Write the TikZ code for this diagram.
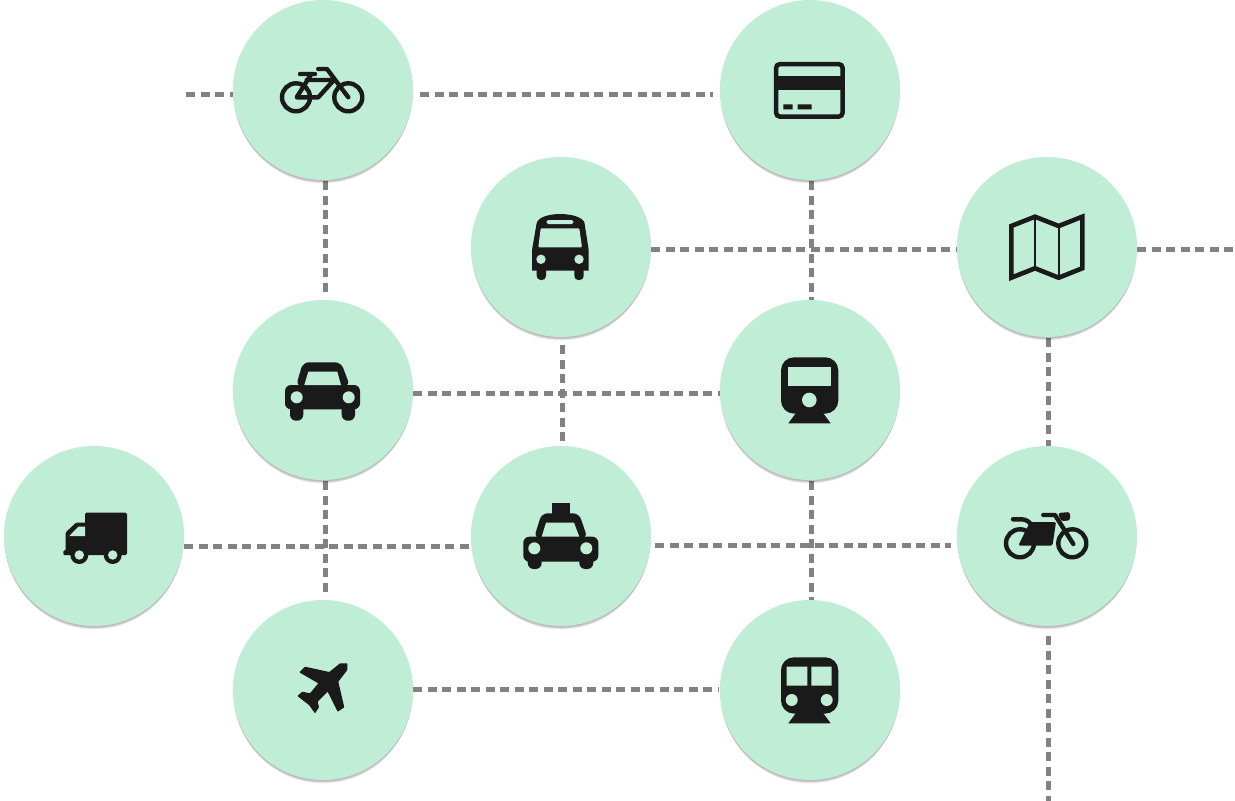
\documentclass[tikz,border=0pt]{standalone}
\usetikzlibrary{backgrounds}
\definecolor{mint}{RGB}{191,237,213}
\definecolor{ink}{RGB}{26,26,26}
\definecolor{linkgray}{RGB}{130,130,130}
\tikzset{
  station/.style={circle,fill=mint,minimum size=180pt,inner sep=0pt,outer sep=0pt},
  link/.style={draw=linkgray,line width=4.6pt,dash pattern=on 9pt off 5.5pt},
  icon/.style={fill=ink,draw=none},
  hole/.style={fill=mint,draw=none},
  stroke/.style={draw=ink,line width=4.4pt,line cap=round,line join=round},
}
\newcommand{\stationat}[3]{%
  \fill[black,opacity=.04] (#2,#3+5) circle[radius=88.5];
  \fill[black,opacity=.05] (#2,#3+4) circle[radius=89];
  \fill[black,opacity=.07] (#2,#3+3) circle[radius=89.5];
  \fill[black,opacity=.08] (#2,#3+2) circle[radius=89.8];
  \fill[black,opacity=.06] (#2,#3+1) circle[radius=90];
  \node[station] (#1) at (#2,#3) {};
}
\begin{document}
\begin{tikzpicture}[x=1pt,y=-1pt]
\useasboundingbox (0,0) rectangle (1235,801);
\stationat{bike}{323}{90}
\stationat{card}{810}{90}
\stationat{bus}{561}{247}
\stationat{map}{1047}{247}
\stationat{car}{323}{390}
\stationat{train}{810}{390}
\stationat{truck}{94}{536}
\stationat{taxi}{561}{536}
\stationat{moto}{1047}{536}
\stationat{plane}{323}{690}
\stationat{metro}{810}{690}
\coordinate (bikefree) at (186,94.5);
\coordinate (mapfree) at (1235,249.5);
\coordinate (motofree) at (1048.5,801);
\begin{scope}[on background layer]
\fill[white] (0,0) rectangle (1235,801);
\draw[link] (bikefree) -- ([shift={(0,4.5)}]bike.west);
\draw[link] ([shift={(7,4.5)}]bike.east) -- ([shift={(-7,4.5)}]card.west);
\draw[link] ([shift={(2.5,1)}]bike.south) -- ([shift={(2.5,-8)}]car.north);
\draw[link] ([shift={(1.5,1)}]card.south) -- ([shift={(1.5,0)}]train.north);
\draw[link] ([shift={(0,2.5)}]bus.east) -- ([shift={(0,2.5)}]map.west);
\draw[link] ([shift={(0,2.5)}]map.east) -- (mapfree);
\draw[link] ([shift={(1.5,8)}]bus.south) -- ([shift={(1.5,0)}]taxi.north);
\draw[link] ([shift={(0,3.5)}]car.east) -- ([shift={(0,3.5)}]train.west);
\draw[link] ([shift={(1.5,1)}]map.south) -- ([shift={(1.5,0)}]moto.north);
\draw[link] ([shift={(1.5,10)}]moto.south) -- (motofree);
\draw[link] ([shift={(0,10.5)}]truck.east) -- ([shift={(0,10.5)}]taxi.west);
\draw[link] ([shift={(4,9.5)}]taxi.east) -- ([shift={(-6,9.5)}]moto.west);
\draw[link] ([shift={(2.5,1)}]car.south) -- ([shift={(2.5,-8)}]plane.north);
\draw[link] ([shift={(1.5,1)}]train.south) -- ([shift={(1.5,0)}]metro.north);
\draw[link] ([shift={(0,-0.5)}]plane.east) -- ([shift={(-2,-0.5)}]metro.west);
\end{scope}
% bicycle
\draw[stroke] (296,97.3) circle[radius=14] (348.3,97.3) circle[radius=14];
\draw[stroke] (300,74) -- (315,74) (318.3,69) -- (327,69) -- (348.3,97.3)
  (310.7,75) -- (296.7,97.3) -- (318.3,97.3) -- (333.5,80.5) (306.7,80) -- (333.3,80);
% card
\draw[draw=ink,line width=4.5pt,rounded corners=3.5pt] (776.2,64.2) rectangle (842.5,116.5);
\fill[icon] (776,76) rectangle (843,90);
\fill[icon] (783.3,104.3) rectangle (792.7,109.3) (797.7,104.3) rectangle (811.7,109.3);
% bus
\path[icon] (532,270.7) -- (532,250) -- (536.7,223) .. controls (538,217) and (550,214) .. (560,214)
  .. controls (571,214) and (583,217) .. (584.5,223) -- (588.7,250) -- (588.7,270.7) -- cycle;
\path[icon,rounded corners=4pt] (536.7,262) rectangle (546,280) (574.3,262) rectangle (583.7,280);
\path[hole,rounded corners=1.5pt] (546.7,220) rectangle (573.3,224);
\path[hole,rounded corners=1pt] (540.7,228.3) -- (579.3,228.3) -- (582,247.3) -- (538.3,247.3) -- cycle;
\fill[hole] (541,259.3) circle[radius=4.7] (579,259.3) circle[radius=4.7];
% map
\draw[draw=ink,line width=4.6pt,line join=miter] (1011.3,226) -- (1035,216.7) -- (1058.7,226) -- (1082.3,216.7)
  -- (1082.3,268.3) -- (1058.7,277.7) -- (1035,268.3) -- (1011.3,277.7) -- cycle;
\draw[draw=ink,line width=2.6pt] (1035,216.7) -- (1035,268.3);
\draw[draw=ink,line width=2pt] (1058.7,226) -- (1058.7,277.7);
% car
\path[icon,rounded corners=6pt] (296,386) -- (303,362.3) -- (341,362.3) -- (350,386) -- cycle;
\path[icon,rounded corners=6pt] (285,409.3) -- (285,385) -- (360,385) -- (360,409.3) -- cycle;
\path[icon,rounded corners=6pt] (290,400) rectangle (303.3,420.7) (341.7,400) rectangle (355,420.7);
\path[hole] (308.3,371.7) -- (337.3,371.7) -- (341,385) -- (304.3,385) -- cycle;
\fill[hole] (296.7,397.3) circle[radius=6] (348.7,397.3) circle[radius=6];
% train
\path[icon,rounded corners=13pt] (781,357.3) rectangle (838.3,413.6);
\path[icon] (796.7,412) -- (788.3,423.3) -- (830.7,423.3) -- (822.3,412) -- cycle;
\fill[hole] (787.7,366.7) rectangle (831,385.7);
\fill[hole] (809.3,400) circle[radius=7.3];
% truck
\path[icon,rounded corners=1.5pt] (85,512.7) rectangle (127,555);
\path[icon,rounded corners=1pt] (90,522.7) -- (76,522.7) -- (65.7,532.3) -- (65.7,550.5) -- (63.3,550.5) -- (63.3,555) -- (90,555) -- cycle;
\fill[hole] (85,526.7) -- (78.3,526.7) -- (69.3,536) -- (85,536) -- cycle;
\fill[ink] (79.3,555) circle[radius=9] (112.7,555) circle[radius=9];
\fill[hole] (79.3,555) circle[radius=4.7] (112.7,555) circle[radius=4.7];
% taxi
\fill[icon] (551.7,503.3) rectangle (570,515);
\path[icon,rounded corners=6pt] (534,538) -- (541.7,513.3) -- (579,513.3) -- (587.5,538) -- cycle;
\path[icon,rounded corners=6pt] (523.3,561.7) -- (523.3,536.7) -- (598.3,536.7) -- (598.3,561.7) -- cycle;
\path[icon,rounded corners=6pt] (527.7,552) rectangle (541.7,569) (579.3,552) rectangle (593.3,569);
\fill[hole] (546,522.7) -- (574,522.7) -- (579.3,536.7) -- (541.7,536.7) -- cycle;
\fill[hole] (534.3,548.3) circle[radius=6] (586.3,548.3) circle[radius=6];
% motorcycle
\draw[stroke] (1020,543.3) circle[radius=14] (1072.3,543.3) circle[radius=14];
\path[icon,rounded corners=1.5pt] (1018.3,545.5) -- (1030,522) -- (1056,522) -- (1052.5,545.5) -- cycle;
\draw[stroke] (1013,519.3) -- (1021.7,519.3) .. controls (1026,519.3) and (1030,522) .. (1032,526);
\draw[stroke] (1043.3,515) -- (1055,515) -- (1073.3,544);
\path[icon,rounded corners=2.5pt] (1058,513) -- (1070,512) -- (1070,520.5) -- (1061,521) -- cycle;
% plane
\path[icon,rounded corners=.6pt] (347.3,663.3) -- (340,663.3) -- (329.3,672) -- (305,666.7) -- (299.3,672.3) -- (318.3,683.3)
  -- (310,693.3) -- (302.3,691.7) -- (297.3,696) -- (309,705) -- (315,713.3) -- (319,707.3) -- (317.7,701.7)
  -- (327.7,691.7) -- (337.7,711.7) -- (344.3,707.3) -- (338.3,681.7) -- (347.3,670) -- cycle;
% metro
\path[icon,rounded corners=13pt] (781,657.3) rectangle (838.3,713.6);
\path[icon] (796.7,712) -- (788.3,723.3) -- (830.7,723.3) -- (822.3,712) -- cycle;
\fill[hole] (786.7,666.7) rectangle (807.3,685.7) (811.3,666.7) rectangle (831.7,685.7);
\fill[hole] (791.7,700) circle[radius=6] (826.7,700) circle[radius=6];
\end{tikzpicture}
\end{document}
